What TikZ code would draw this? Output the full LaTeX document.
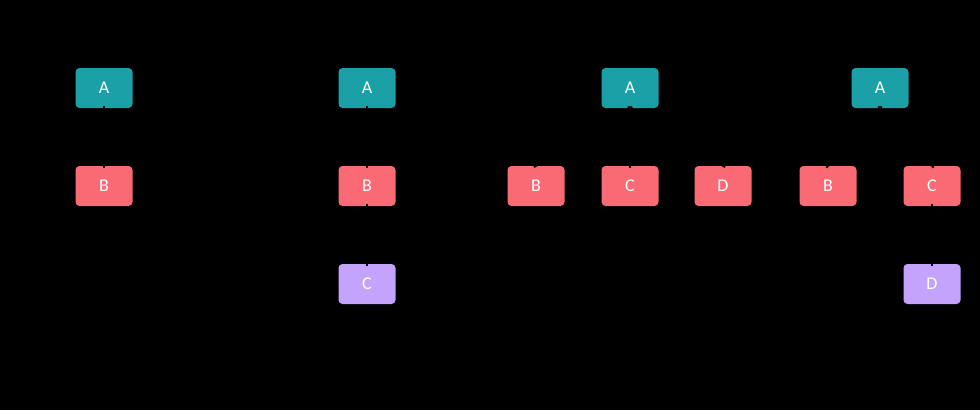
\documentclass[tikz,border=0pt]{standalone}
\usepackage{fontspec}
\setmainfont{Carlito}
\definecolor{tealbox}{RGB}{26,160,166}
\definecolor{coralbox}{RGB}{250,106,116}
\definecolor{lavbox}{RGB}{195,163,251}
\begin{document}
\begin{tikzpicture}[x=1pt,y=-1pt,
  box/.style={rounded corners=4pt, minimum width=57pt, minimum height=40pt, inner sep=0pt, text=white, font=\fontsize{18}{20}\selectfont},
  tbox/.style={box, fill=tealbox},
  cbox/.style={box, fill=coralbox},
  lbox/.style={box, fill=lavbox},
  link/.style={black, line width=2pt, shorten <=-2.5pt, shorten >=-2.5pt}]
\fill[black] (0,0) rectangle (980,410);
\useasboundingbox (0,0) rectangle (980,410);
% panel 1
\node[tbox] (a1) at (104,88) {A};
\node[cbox] (b1) at (104,186) {B};
% panel 2
\node[tbox] (a2) at (367,88) {A};
\node[cbox] (b2) at (367,186) {B};
\node[lbox] (c2) at (367,284) {C};
% panel 3
\node[tbox] (a3) at (630,88) {A};
\node[cbox] (b3) at (536,186) {B};
\node[cbox] (c3) at (630,186) {C};
\node[cbox] (d3) at (723,186) {D};
% panel 4
\node[tbox] (a4) at (880,88) {A};
\node[cbox] (b4) at (828,186) {B};
\node[cbox] (c4) at (932,186) {C};
\node[lbox] (d4) at (932,284) {D};
% connectors
\draw[link] (a1.south) -- (b1.north);
\draw[link] (a2.south) -- (b2.north);
\draw[link] (b2.south) -- (c2.north);
\draw[link] (a3.south) -- (b3.north);
\draw[link] (a3.south) -- (c3.north);
\draw[link] (a3.south) -- (d3.north);
\draw[link] (a4.south) -- (b4.north);
\draw[link] (a4.south) -- (c4.north);
\draw[link] (c4.south) -- (d4.north);
\end{tikzpicture}
\end{document}
